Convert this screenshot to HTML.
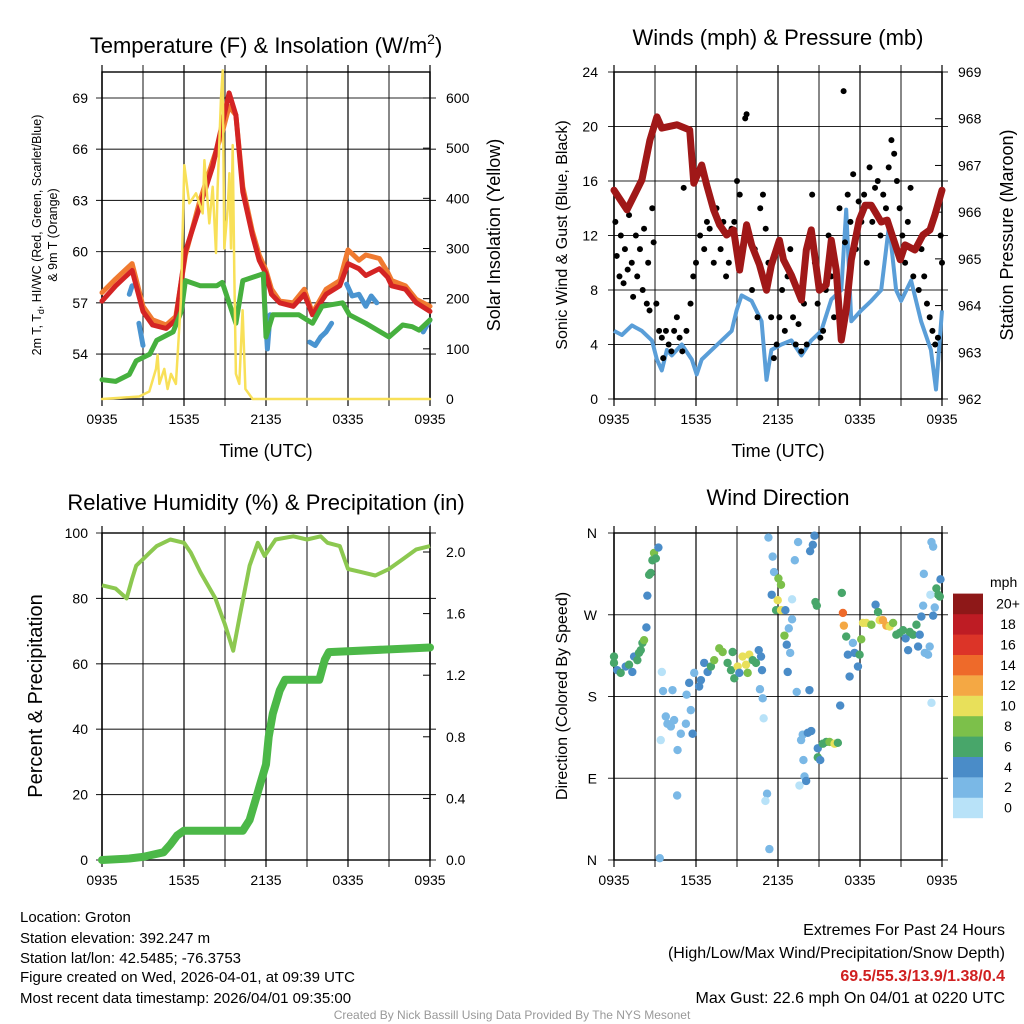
<!DOCTYPE html>
<html><head><meta charset="utf-8">
<style>
html,body{margin:0;padding:0;background:#fff;}
svg{display:block;font-family:"Liberation Sans",sans-serif;}
</style></head>
<body>
<svg id="chart" width="1024" height="1024" viewBox="0 0 1024 1024" xmlns="http://www.w3.org/2000/svg">
<rect x="0" y="0" width="1024" height="1024" fill="#fff"/>
<text x="266" y="53" text-anchor="middle" font-size="22">Temperature (F) &amp; Insolation (W/m<tspan dy="-9" font-size="14">2</tspan><tspan dy="9">)</tspan></text>
<text x="778" y="45" text-anchor="middle" font-size="22">Winds (mph) &amp; Pressure (mb)</text>
<text x="266" y="510" text-anchor="middle" font-size="22">Relative Humidity (%) &amp; Precipitation (in)</text>
<text x="778" y="505" text-anchor="middle" font-size="22">Wind Direction</text>

<text x="266" y="457" text-anchor="middle" font-size="18">Time (UTC)</text>
<text x="778" y="457" text-anchor="middle" font-size="18">Time (UTC)</text>
<text transform="translate(41,235) rotate(-90)" text-anchor="middle" font-size="12.5">2m T, T<tspan dy="3" font-size="9">d</tspan><tspan dy="-3">, HI/WC (Red, Green, Scarlet/Blue)</tspan></text>
<text transform="translate(57,235) rotate(-90)" text-anchor="middle" font-size="12.5">&amp; 9m T (Orange)</text>
<text transform="translate(500,235) rotate(-90)" text-anchor="middle" font-size="18">Solar Insolation (Yellow)</text>
<text transform="translate(567,235) rotate(-90)" text-anchor="middle" font-size="16">Sonic Wind &amp; Gust (Blue, Black)</text>
<text transform="translate(1013,235) rotate(-90)" text-anchor="middle" font-size="18">Station Pressure (Maroon)</text>
<text transform="translate(42,696) rotate(-90)" text-anchor="middle" font-size="20">Percent &amp; Precipitation</text>
<text transform="translate(567,696) rotate(-90)" text-anchor="middle" font-size="16">Direction (Colored By Speed)</text>

<g font-size="15">
<text x="20" y="922">Location: Groton</text>
<text x="20" y="943">Station elevation: 392.247 m</text>
<text x="20" y="963">Station lat/lon: 42.5485; -76.3753</text>
<text x="20" y="982">Figure created on Wed, 2026-04-01, at 09:39 UTC</text>
<text x="20" y="1003">Most recent data timestamp: 2026/04/01 09:35:00</text>
</g>
<g text-anchor="end" font-size="16">
<text x="1005" y="935">Extremes For Past 24 Hours</text>
<text x="1005" y="958">(High/Low/Max Wind/Precipitation/Snow Depth)</text>
<text x="1005" y="981" fill="#d02020" font-weight="bold">69.5/55.3/13.9/1.38/0.4</text>
<text x="1005" y="1003">Max Gust: 22.6 mph On 04/01 at 0220 UTC</text>
</g>
<text x="512" y="1019" text-anchor="middle" font-size="12" fill="#999">Created By Nick Bassill Using Data Provided By The NYS Mesonet</text>
</svg>
<script>
// ---------- Panel 1 data ----------
const tT=[0,1,2.2,3,3.7,4.7,5.4,6.1,7.1,8.1,8.8,9.3,9.8,10.3,11,11.5,12,12.4,13,14,14.8,15.4,16.4,17.4,18,18.8,19.3,20.3,20.9,21.2,22.2,23,24];
const tempRed=[57.1,58,58.9,56.5,55.7,55.5,56,60,62.5,65,67.5,69.3,68,63.5,61,59.5,58.7,57.5,57,56.8,57.5,56.3,57.5,58,59.3,59,58.6,59,58.5,58,57.8,57,56.5];
const temp9m=[57.6,58.4,59.3,56.8,56,55.7,56.2,59.8,62.8,65.3,67,68.5,68,63.8,61.2,59.8,58.9,57.8,57.1,57,57.8,56.4,57.8,58.3,60.1,59.5,59.8,59.6,58.8,58.3,58,57.2,56.8];
const tG=[0,1,2,2.5,3.5,4,5.2,5.8,6.1,7.2,8.4,8.8,9.3,9.8,10.3,11.8,12,12.5,14.4,15.4,16.1,17.6,18.1,19.3,21,22,22.7,23.2,24];
const dewpoint=[52.5,52.4,52.8,53.6,54,54.8,55.3,56.5,58.3,58,58,58.2,57,55.8,58.3,58.7,55,56.3,56.3,55.8,56.8,57,56.3,55.8,55,55.7,55.6,55.4,56];
const tB=[2,2.2,2.6,2.7,3,3.1,11.9,12.1,12.3,12.5,15.2,15.6,16,16.4,16.8,17.1,17.9,18.3,18.8,19.3,19.7,20.1,20.6,23.5,24];
const hiwc=[57.5,58,null,55.8,54.5,null,57,54.3,56.3,null,54.7,54.5,55,55.3,55.8,null,58.1,57.4,57.5,56.8,57.4,57,null,55.3,56];
const tY=[0,2.73,3.46,3.95,4.07,4.2,4.56,4.8,5.05,5.41,5.78,6.02,6.39,6.88,7.37,7.49,7.85,8.1,8.34,8.46,8.71,8.83,8.95,9.2,9.32,9.44,9.56,9.68,9.8,10.05,10.29,10.49,11.02,24];
const solar=[0,5,15,60,88,30,60,20,50,30,200,466,390,410,370,476,350,423,291,420,600,655,300,380,450,300,506,250,50,30,177,20,0,0];
const tempTicks=[54,57,60,63,66,69];
const solarTicks=[0,100,200,300,400,500,600];
// ---------- Panel 2 data ----------
const tP=[0,0.95,2.04,2.63,3.14,3.5,4.6,5.54,5.84,6.42,6.78,7.29,7.73,8.24,8.75,9.19,9.7,10.07,10.65,11.16,11.52,12.1,12.4,12.98,13.71,14.07,14.44,15.02,15.53,15.9,16.26,16.63,16.99,17.36,17.94,18.38,18.82,19.55,19.99,20.94,21.3,22.02,22.6,23.12,23.48,24];
const pressure=[966.47,966.05,966.69,967.54,968.04,967.8,967.87,967.76,966.62,967.01,966.58,966.05,965.73,965.51,965.62,964.76,965.73,965.3,964.87,964.33,964.87,965.4,964.98,964.65,964.12,965.19,965.62,964.33,964.44,965.4,964.76,963.26,963.91,964.98,965.83,966.15,966.15,965.79,965.83,964.98,965.3,965.19,965.51,965.62,965.94,966.47];
const tW=[0,0.58,1.31,2.04,2.77,3.14,3.5,3.87,4.23,4.96,5.69,6.05,6.42,7.15,7.88,8.61,8.97,9.34,10.07,10.8,11.16,11.52,12.25,12.98,13.71,14.44,15.17,15.9,16.63,16.99,17.36,18.09,18.82,19.55,20.13,20.64,21.01,21.74,22.47,23.19,23.56,24];
const windSpd=[5,4.7,5.4,5,4.3,2.9,2.1,3.6,3.2,4,2.9,1.8,2.9,3.6,4.3,5,6.5,7.6,7.2,5.7,1.4,3.6,4,4.3,3.2,4.3,5,7.3,8,13.9,5.7,6.5,7.2,8,12.8,8,7.2,8.7,5.7,3.6,0.7,6.5];
const gustT=[0.1,0.2,0.4,0.5,0.7,0.8,1.0,1.1,1.3,1.4,1.6,1.7,1.9,2.1,2.2,2.4,2.5,2.6,2.8,2.9,3.1,3.3,3.5,3.6,3.8,4.0,4.2,4.4,4.6,4.8,5.0,5.1,5.3,5.6,5.8,6.0,6.3,6.6,6.8,7.0,7.3,7.5,7.8,8.0,8.2,8.4,8.6,8.8,9.0,9.2,9.6,9.7,9.9,10.1,10.3,10.5,10.7,10.9,11.1,11.3,11.5,11.7,11.9,12.1,12.3,12.5,12.7,12.9,13.1,13.3,13.5,13.7,13.9,14.1,14.3,14.5,14.7,14.9,15.1,15.3,15.5,15.7,15.9,16.1,16.3,16.5,16.8,16.9,17.1,17.3,17.5,17.7,17.9,18.1,18.3,18.5,18.7,18.9,19.1,19.3,19.5,19.7,19.9,20.1,20.3,20.5,20.7,20.9,21.1,21.3,21.5,21.7,21.9,22.1,22.3,22.5,22.7,22.9,23.1,23.3,23.5,23.7,23.9,24.0];
const gustV=[13,10.5,9,12,8.5,11,9.5,13.5,10,7.5,12,9,11,8,12.5,7,10,6.5,14,11.5,7,5,4.5,3,5,4,3.5,5,6,4.5,3.5,15.5,5,7,9,10,12,11,13,12.5,10,14,11,13,9,10,12.5,13,16,15,20.6,20.9,12,8,11,6,14,15,12.5,10,6,3,4,6,8,5,9,11,6,4,5.5,3.5,7,4,12,15,10,7,4.5,5,8,12,9,6,9,14,22.6,11.5,15,13,16.5,11,14.5,13,15,10,17,13,15.5,16,12,15,14,17,19,18,16,14,12,10,13,15.5,9,11,8,11,9,7,6,5,4,4.5,12,10,9];
const windTicks=[0,4,8,12,16,20,24];
const presTicks=[962,963,964,965,966,967,968,969];
// ---------- Panel 3 data ----------
const tR=[0,1,1.8,2.2,2.5,3,3.5,4,5,6,6.5,7.2,8.3,9,9.6,10.1,10.8,11.4,11.9,12.7,14,15,16,16.5,17.4,18,19,20,21,22,23,24];
const rh=[84,83,80,86,90,92,94,96,98,97,94,88,80,72,64,75,90,97,93,98,99,98,99,97,96,89,88,87,89,92,95,96];
const tPr=[0,2,3,3.5,4.5,5,5.5,6,10.3,10.8,11.2,11.6,12,12.2,12.5,13,13.4,15.9,16.3,16.6,24];
const precip=[0,0.01,0.02,0.03,0.05,0.1,0.16,0.19,0.19,0.26,0.38,0.5,0.62,0.8,0.95,1.1,1.17,1.17,1.3,1.35,1.38];
const rhTicks=[0,20,40,60,80,100];
const prTicks=[0,0.4,0.8,1.2,1.6,2.0];
// ---------- Panel 4 data ----------
const dirT=[0,0,0.24,0.49,0.86,1.1,1.34,1.47,1.71,1.83,1.96,2.08,2.2,2.37,2.44,2.57,2.69,2.81,2.93,3.06,3.25,
3.5,3.59,4.28,3.79,3.91,4.16,4.4,4.65,4.89,5.26,5.31,5.5,5.62,5.75,5.87,3.42,4.62,3.35,
6.23,6.36,6.6,6.85,7.09,7.33,7.7,7.95,8.31,8.56,8.68,8.8,9.05,9.17,9.41,9.66,9.9,10.15,10.39,10.59,10.76,10.83,9.78,
10.68,10.88,10.95,11.2,11.08,11.37,11.3,11.61,11.71,11.54,12.03,12.22,11.98,11.86,12.22,12.54,13.03,13.03,12.79,12.47,12.64,12.89,12.71,13.37,14.3,13.47,13.23,14.35,14.55,14.67,
13.57,13.94,14.06,13.86,13.69,13.81,14.18,14.43,14.91,14.91,15.09,15.28,15.53,15.77,16.14,16.38,16.55,
14.74,14.84,16.67,16.75,16.82,16.99,17.11,17.24,17.48,17.6,17.85,17.97,18.09,18.22,18.46,18.83,19.14,19.32,19.44,19.68,19.93,20.17,20.42,20.66,20.9,21.15,21.34,21.52,21.64,21.88,22.13,22.25,22.37,22.49,22.62,22.74,22.98,23.1,23.35,23.47,23.59,23.72,23.84,23.89,23.15,22.67,23.23,23.35,23.23];
const dirDeg=[224,217,209,206,213,215,207,224,220,228,231,239,242,256,291,314,316,330,338,332,344,
207,186,187,158,150,147,154,121,139,150,182,195,165,139,206,132,71,2,
191,198,217,207,213,220,233,229,217,209,229,200,213,206,224,215,226,220,217,231,224,209,206,
188,178,156,73,65,12,355,334,317,292,310,303,286,275,275,275,287,265,255,247,237,228,207,185,187,350,330,340,347,357,
82,92,87,110,132,138,140,142,123,113,110,128,130,130,128,129,170,
284,280,294,272,258,246,226,202,239,228,213,226,243,261,261,259,281,273,264,264,258,257,261,248,250,253,244,231,251,248,259,235,248,268,280,228,226,235,269,278,299,292,290,309,292,315,350,345,173];
const dirSpd=[6,6,4,6,4,6,4,4,6,6,6,6,8,4,4,6,6,6,8,6,4,
0,2,2,2,2,2,2,2,2,2,2,4,2,4,2,0,2,2,
4,4,4,4,6,8,8,8,6,6,6,6,10,4,10,10,10,6,6,4,4,4,8,
2,2,0,2,0,2,2,2,2,4,8,8,10,6,10,4,0,2,2,8,4,2,4,2,4,2,2,4,4,4,
0,2,4,2,2,2,4,4,4,6,4,6,6,8,10,6,4,
6,6,6,14,12,6,4,4,2,4,4,6,8,10,10,8,4,6,10,12,12,10,8,6,6,6,4,4,6,6,6,4,4,4,2,2,2,2,4,2,6,6,6,4,0,2,2,2,0];
const speedLabels=["0","2","4","6","8","10","12","14","16","18","20+"];
const speedColors=["#b8e2f8","#7ab8e6","#4a8cc8","#48a66a","#7cc04a","#e8e05a","#f4a844","#ee6a2a","#dc3428","#be1c24","#8e1818"];
const timeLabels=["0935","1535","2135","0335","0935"];
const dirLabels=["N","E","S","W","N"];

// ---------- helpers ----------
const NS='http://www.w3.org/2000/svg';
const svg=document.getElementById('chart');
function mk(tag,attrs,parent){const e=document.createElementNS(NS,tag);for(const k in attrs)e.setAttribute(k,attrs[k]);(parent||svg).appendChild(e);return e;}
function linePath(ts,vs,xf,yf){let d='',pen=false;for(let i=0;i<ts.length;i++){if(vs[i]===null){pen=false;continue;}d+=(pen?'L':'M')+xf(ts[i]).toFixed(1)+','+yf(vs[i]).toFixed(1);pen=true;}return d;}

function frame(P,name){
  const g=mk('g',{});
  
  
  const xs=t=>P.x0+t/24*(P.x1-P.x0);
  for(let h=0;h<=24;h+=3){
    const x=xs(h);
    const ln=mk('line',{x1:x,x2:x,y1:P.y0-7,y2:P.y1+7,stroke:'#000','stroke-width':(h%6===0?1.4:1.1),'stroke-opacity':0.85},g);
    
    
  }
  timeLabels.forEach((lab,i)=>{
    const tx=mk('text',{x:xs(i*6),y:P.y1+25,'text-anchor':'middle','font-size':14},g);
    tx.textContent=lab;
    
    
  });
  const r=mk('rect',{x:P.x0,y:P.y0,width:P.x1-P.x0,height:P.y1-P.y0,fill:'none',stroke:'#000','stroke-width':1.4},g);
  
  
  return {g,xs};
}
function hgrid(g,P,ticks,yf,labelX,anchor,fmt,grid){
  ticks.forEach(v=>{
    const y=yf(v);
    if(grid){const l=mk('line',{x1:P.x0-6,x2:P.x1+6,y1:y,y2:y,stroke:'#000','stroke-width':1.1,'stroke-opacity':0.85},g);
      
      }
    else{const side=anchor==='start'?P.x1:P.x0;const dir=anchor==='start'?-1:1;
      const l=mk('line',{x1:side,x2:side+dir*7,y1:y,y2:y,stroke:'#000','stroke-width':1},g);
      
      }
    const t=mk('text',{x:labelX,y:y+5,'text-anchor':anchor,'font-size':14},g);
    t.textContent=fmt(v);
    
    
  });
}

// ---------- Panel 1 ----------
const P1={x0:102,x1:430,y0:72,y1:399};
const f1=frame(P1,'temperature');
const yT=v=>98+(69-v)*17.07;
const yS=v=>399-v*0.5017;
hgrid(f1.g,P1,tempTicks,yT,88,'end',v=>String(v),true);
hgrid(f1.g,P1,solarTicks,yS,446,'start',v=>String(v),false);
[[tB,hiwc,'#4a94d0',5,'hiwc-line'],[tT,temp9m,'#f07a30',5,'temp-9m-line'],[tT,tempRed,'#d42424',5,'temperature-line'],[tG,dewpoint,'#46b03e',5,'dewpoint-line'],[tY,solar,'#f8e058',2.5,'solar-line']].forEach(s=>{
  const yf=s[4]==='solar-line'?yS:yT;
  const p=mk('path',{d:linePath(s[0],s[1],f1.xs,yf),fill:'none',stroke:s[2],'stroke-width':s[3],'stroke-linejoin':'round','stroke-linecap':'round'});
  
  
});

// ---------- Panel 2 ----------
const P2={x0:614,x1:942,y0:72,y1:399};
const f2=frame(P2,'winds');
const yW=v=>399-v*13.625;
const yPr=v=>399-(v-962)*46.71;
hgrid(f2.g,P2,windTicks,yW,598,'end',v=>String(v),true);
hgrid(f2.g,P2,presTicks,yPr,958,'start',v=>String(v),false);
const wl=mk('path',{d:linePath(tW,windSpd,f2.xs,yW),fill:'none',stroke:'#5a9ed8','stroke-width':4,'stroke-linejoin':'round'});


gustT.forEach((t,i)=>{
  const c=mk('circle',{cx:f2.xs(t),cy:yW(gustV[i]),r:3,fill:'#000'});
  
  
});
const pl=mk('path',{d:linePath(tP,pressure,f2.xs,yPr),fill:'none',stroke:'#a01818','stroke-width':7,'stroke-linejoin':'round','stroke-linecap':'round'});



// ---------- Panel 3 ----------
const P3={x0:102,x1:430,y0:533,y1:860};
const f3=frame(P3,'humidity');
const yRH=v=>860-v*3.27;
const yIn=v=>860-v*154;
hgrid(f3.g,P3,rhTicks,yRH,88,'end',v=>String(v),true);
hgrid(f3.g,P3,prTicks,yIn,446,'start',v=>v.toFixed(1),false);
const rl=mk('path',{d:linePath(tR,rh,f3.xs,yRH),fill:'none',stroke:'#8cc850','stroke-width':4,'stroke-linejoin':'round'});


const prl=mk('path',{d:linePath(tPr,precip,f3.xs,yIn),fill:'none',stroke:'#4cb848','stroke-width':8,'stroke-linejoin':'round','stroke-linecap':'round'});



// ---------- Panel 4 ----------
const P4={x0:614,x1:942,y0:533,y1:860};
const f4=frame(P4,'wind-direction');
const yD=v=>860-v/360*327;
hgrid(f4.g,P4,[0,90,180,270,360],yD,597,'end',v=>dirLabels[v/90],true);
dirT.forEach((t,i)=>{
  const c=mk('circle',{cx:f4.xs(t),cy:yD(dirDeg[i]),r:4.2,fill:speedColors[Math.min(10,Math.round(dirSpd[i]/2))]});
  
  
});
// colorbar
const cb=mk('g',{});


const mt=mk('text',{x:990,y:587,'font-size':14},cb);
mt.textContent='mph';


speedLabels.forEach((lab,i)=>{
  const y=818-(i+1)*20.4;
  const r=mk('rect',{x:953,y:y,width:30,height:20.6,fill:speedColors[i]},cb);
  
  
  const t=mk('text',{x:1008,y:y+15,'text-anchor':'middle','font-size':14},cb);
  t.textContent=lab;
  
  
});
</script>
</body></html>
